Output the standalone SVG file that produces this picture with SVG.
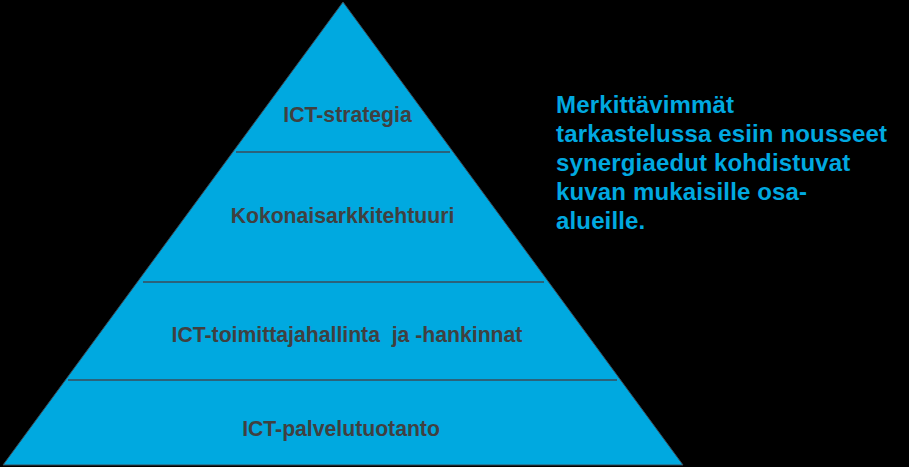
<svg xmlns="http://www.w3.org/2000/svg" width="909" height="467" viewBox="0 0 909 467">
  <style>
    .lbl { font-family: "Liberation Sans", Arial, sans-serif; font-weight: bold; font-size: 21.2px; fill: #404040; text-anchor: middle; }
    .note { font-family: "Liberation Sans", Arial, sans-serif; font-weight: bold; font-size: 24px; fill: #00A9E0; letter-spacing: 0.15px; }
    .div { stroke: #3a4d5a; stroke-width: 1.6; fill: none; }
  </style>
  <rect x="0" y="0" width="909" height="467" fill="#000000"/>
  <g id="pyramid">
    <polygon points="343,2 683,465 3,465" fill="#00A9E0" stroke="#3a4d5a" stroke-width="1"/>
  </g>
  <g id="dividers">
    <line class="div" x1="236" y1="152" x2="450" y2="152"/>
    <line class="div" x1="143" y1="282" x2="544" y2="282"/>
    <line class="div" x1="68" y1="380" x2="617" y2="380"/>
  </g>
  <g id="level-ict-strategia">
    <text class="lbl" x="347.5" y="121.5">ICT-strategia</text>
  </g>
  <g id="level-kokonaisarkkitehtuuri">
    <text class="lbl" x="342.5" y="223">Kokonaisarkkitehtuuri</text>
  </g>
  <g id="level-toimittajahallinta">
    <text class="lbl" x="347" y="341.5" xml:space="preserve">ICT-toimittajahallinta  ja -hankinnat</text>
  </g>
  <g id="level-palvelutuotanto">
    <text class="lbl" x="341" y="436">ICT-palvelutuotanto</text>
  </g>
  <g id="note">
    <text class="note" x="556" y="112.5">Merkittävimmät</text>
    <text class="note" x="556" y="141.5">tarkastelussa esiin nousseet</text>
    <text class="note" x="556" y="170.5">synergiaedut kohdistuvat</text>
    <text class="note" x="556" y="199.5">kuvan mukaisille osa-</text>
    <text class="note" x="556" y="228.5">alueille.</text>
  </g>
</svg>
